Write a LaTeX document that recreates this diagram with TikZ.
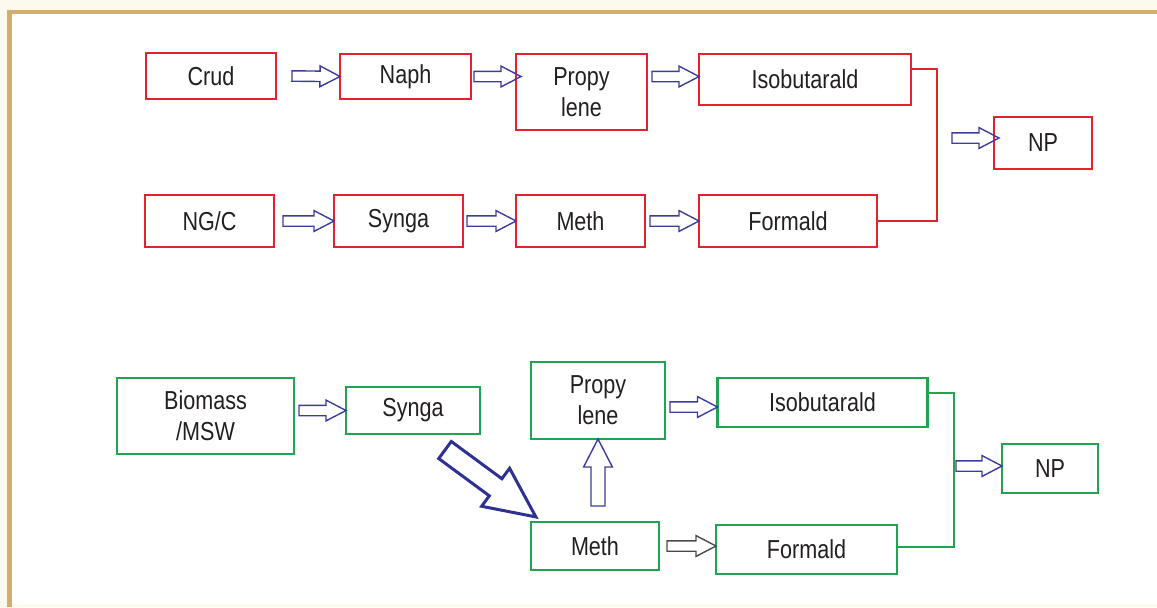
\documentclass[tikz,border=0pt]{standalone}
\usepackage{fontspec}
\setmainfont{Liberation Sans}[FakeStretch=0.83]
\usetikzlibrary{calc}
\definecolor{bred}{HTML}{E3222E}
\definecolor{bgreen}{HTML}{1FA54F}
\definecolor{barrow}{HTML}{3C3C9C}
\definecolor{navy}{HTML}{2E3192}
\definecolor{garrow}{HTML}{4A4A4A}
\definecolor{txt}{HTML}{231F20}
\definecolor{tanb}{HTML}{D4AE6C}
\definecolor{cream}{HTML}{FCFAEE}
% block arrow: [style]{start}{end}{half shaft}{half head}{head length}
\newcommand\blk[6][]{%
  \draw[#1] let \p1=(#2), \p2=(#3),
    \n1={atan2(\y2-\y1,\x2-\x1)}, \n2={veclen(\x2-\x1,\y2-\y1)} in
    [shift={(\p1)}, rotate=\n1]
    (0pt,#4) -- ({\n2-#6},#4) -- ({\n2-#6},#5) -- (\n2,0pt)
    -- ({\n2-#6},-#5) -- ({\n2-#6},-#4) -- (0pt,-#4) -- cycle;}
\newcommand\sblk[3][sarr]{\blk[#1]{#2}{#3}{2.6pt}{5.2pt}{10pt}}
\begin{document}
\begin{tikzpicture}[x=0.5pt,y=-0.5pt,
  box/.style={draw, fill=white, line width=1.4pt, inner sep=0pt, outer sep=0pt,
    align=center, text=txt, font=\fontsize{13}{15.5}\selectfont},
  rbox/.style={box, draw=bred},
  gbox/.style={box, draw=bgreen},
  sz/.style 2 args={minimum width=#1*0.5pt, minimum height=#2*0.5pt},
  sarr/.style={draw=barrow, line width=0.7pt, line join=miter},
  garr/.style={draw=garrow, line width=0.7pt, line join=miter},
  barr/.style={draw=navy, line width=1.5pt, line join=miter},
  rline/.style={draw=bred, line width=1.4pt},
  gline/.style={draw=bgreen, line width=1.4pt}]
\useasboundingbox (0,0) rectangle (1157,607);
\fill[cream] (0,0) rectangle (1157,607);
\fill[white] (11.5,14) rectangle (1157,604);
\draw[tanb, line width=2.3pt] (9.5,607) -- (9.5,12) -- (1157,12);

% ---- top (red) ----
\node[rbox, sz={130}{46}] (crud) at (211,76) {Crud};
\node[rbox, sz={131}{45}] (naph) at (405.5,76.5) {Naph};
\node[rbox, sz={131}{76}] (propy1) at (581.5,92) {Propy\\lene};
\node[rbox, sz={212}{51}] (iso1) at (805,79.5) {Isobutarald};
\node[rbox, sz={98}{52}] (np1) at (1043,143) {NP};
\node[rbox, sz={129}{52}] (ngc) at (209.5,221) {NG/C};
\node[rbox, sz={129}{52}] (syn1) at (398.5,221) {Synga};
\node[rbox, sz={129}{52}] (meth1) at (580.5,221) {Meth};
\node[rbox, sz={178}{52}] (form1) at (788,221) {Formald};

\coordinate (j1) at (937,69);
\draw[rline] (iso1.east |- j1) -- (j1) |- (form1.east);

\coordinate (a1) at ($(crud.east)+(16,0)$);
\sblk{a1}{naph.west}
\coordinate (a2) at ($(naph.east)+(3,0)$);
\coordinate (a2e) at ($(propy1.west |- naph.east)+(5,0)$);
\sblk{a2}{a2e}
\coordinate (a3) at ($(propy1.east |- naph.east)+(5,0)$);
\sblk{a3}{iso1.west |- naph.east}
\coordinate (b1) at ($(ngc.east)+(9,0)$);
\sblk{b1}{syn1.west}
\coordinate (b2) at ($(syn1.east)+(4,0)$);
\sblk{b2}{meth1.west}
\coordinate (b3) at ($(meth1.east)+(5,0)$);
\sblk{b3}{form1.west}
\coordinate (n1s) at (952,138);
\coordinate (n1e) at ($(np1.west)+(5,-5)$);
\sblk{n1s}{n1e}

% ---- bottom (green) ----
\node[gbox, sz={177}{76}] (bio) at (205.5,416) {Biomass\\/MSW};
\node[gbox, sz={134}{47}] (syn2) at (413,410.5) {Synga};
\node[gbox, sz={134}{77}] (propy2) at (598,400.5) {Propy\\lene};
\node[gbox, sz={210}{49}] (iso2) at (822.5,402.5) {Isobutarald};
\node[gbox, sz={96}{49}] (np2) at (1050,468.5) {NP};
\node[gbox, sz={128}{48}] (meth2) at (595,546) {Meth};
\node[gbox, sz={181}{49}] (form2) at (806.5,549.5) {Formald};

\coordinate (j2) at (954,393);
\coordinate (j3) at (954,547);
\draw[gline] (iso2.east |- j2) -- (j2) -- (j3) -- (j3 -| form2.east);

\coordinate (c1) at ($(bio.east |- syn2.west)+(5,0)$);
\sblk{c1}{syn2.west}
\coordinate (dg0) at (445,450);
\coordinate (dg1) at (536,517);
\blk[barr]{dg0}{dg1}{5.3pt}{11.8pt}{25pt}
\coordinate (up0) at (598,506);
\blk[sarr]{up0}{propy2.south}{3.5pt}{7.2pt}{14pt}
\coordinate (c3) at (670,407);
\sblk{c3}{iso2.west |- c3}
\coordinate (c4) at ($(meth2.east)+(8,0)$);
\sblk[garr]{c4}{form2.west |- meth2.east}
\coordinate (n2s) at (956,466);
\sblk{n2s}{np2.west |- n2s}
\end{tikzpicture}
\end{document}
